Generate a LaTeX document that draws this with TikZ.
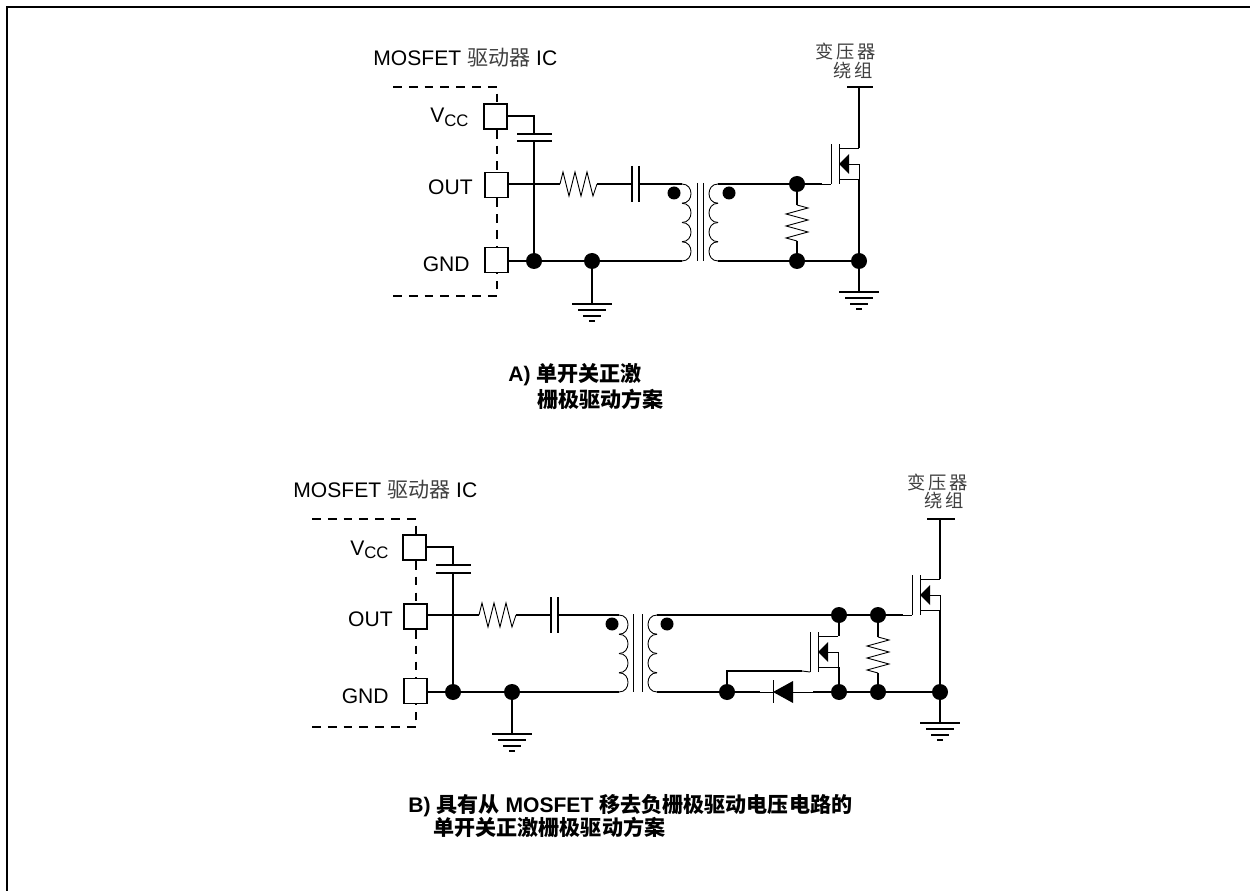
\documentclass[tikz,border=0pt]{standalone}
\usepackage{fontspec}
\setmainfont{Liberation Sans}
\newfontfamily\cjkfont{Noto Sans CJK SC}
\newfontfamily\cjkwide[LetterSpace=14]{Noto Sans CJK SC}
\usepackage{tikz}

\begin{document}
\begin{tikzpicture}[x=0.02cm, y=-0.02cm, line cap=butt,
Wire/.style={line width=1.1pt},
ThinWire/.style={line width=0.5pt},
DashBox/.style={line width=1pt, dash pattern=on 5pt off 4pt},
PinBox/.style={draw, line width=1pt, minimum width=0.46cm, minimum height=0.5cm, inner sep=0pt},
JoinDot/.style={circle, fill=black, minimum size=0.32cm, inner sep=0pt},
PhaseDot/.style={circle, fill=black, minimum size=0.26cm, inner sep=0pt},
Label/.style={inner sep=0pt, font=\fontsize{12}{12}\selectfont},
Winding/.style={inner sep=0pt, anchor=base west, text=black!75, font=\cjkwide\fontsize{10.4}{10.4}\selectfont},
Caption/.style={inner sep=0pt, anchor=base west, font=\bfseries\fontsize{12}{12}\selectfont},
Ground/.pic={
  \draw[Wire] (-20,0) -- (20,0);
  \draw[Wire] (-14,6) -- (14,6);
  \draw[Wire] (-9,12) -- (9,12);
  \draw[Wire] (-3,17) -- (3,17);
  \coordinate (-top) at (0,0);
},
ResH/.pic={
  \draw[ThinWire] (0,0) -- (3,-12) -- (9,12) -- (15,-12) -- (21,12) -- (27,-12) -- (33,12) -- (37,0);
  \coordinate (-in) at (0,0);
  \coordinate (-out) at (37,0);
},
ResV/.pic={
  \draw[ThinWire] (0,0) -- (11,3) -- (-11,9) -- (11,15) -- (-11,21) -- (11,27) -- (-11,33) -- (0,36);
  \coordinate (-in) at (0,0);
  \coordinate (-out) at (0,36);
},
Coil/.pic={
  \foreach \k in {0,1,2,3}
    \draw[ThinWire] (0,19.25*\k) .. controls (12,19.25*\k) and (12,19.25*\k+19.25) .. (0,19.25*\k+19.25);
  \coordinate (-top) at (0,0);
  \coordinate (-bot) at (0,77);
},
Mosfet/.pic={
  \draw[ThinWire] (0,0) -- (0,-40);
  \draw[ThinWire] (8,0) -- (8,-40);
  \draw[ThinWire] (8,-36) -- (28,-36);
  \draw[ThinWire] (8,-5) -- (28,-5);
  \draw[ThinWire] (8,-20) -- (28,-20) -- (28,-5);
  \fill (8,-20) -- (18,-30) -- (18,-10) -- cycle;
  \coordinate (-gate) at (0,0);
  \coordinate (-drain) at (28,-36);
  \coordinate (-source) at (28,-5);
}]

\useasboundingbox (0,0) rectangle (1250,891);
\draw[line width=1.1pt] (7,891) -- (7,7) -- (1250,7);

\node[Label, anchor=base west] (titleA) at (373,66) {MOSFET {\cjkfont\color{black!75} 驱动器} IC};
\node[PinBox] (vccA) at (495.5,116.5) {};
\node[PinBox] (outA) at (496.5,185) {};
\node[PinBox] (gndA) at (496.5,260) {};
\node[Label, anchor=base west] (vccLabelA) at (430,123) {V\raisebox{-0.3ex}{\fontsize{9.5}{9.5}\selectfont CC}};
\node[Label, anchor=base east] (outLabelA) at (473,195) {OUT};
\node[Label, anchor=base east] (gndLabelA) at (470,272) {GND};
\coordinate (boxTlA) at (393,87);
\coordinate (boxTrA) at (497,87);
\coordinate (boxBrA) at (497,296);
\coordinate (boxBlA) at (393,296);
\draw[DashBox] (boxTlA) -- (boxTrA) -- (vccA.north -| boxTrA);
\draw[DashBox] (vccA.south -| boxTrA) -- (outA.north -| boxTrA);
\draw[DashBox] (outA.south -| boxTrA) -- (gndA.north -| boxTrA);
\draw[DashBox] (boxBlA) -- (boxBrA) -- (gndA.south -| boxTrA);

\coordinate (capTopA) at (534,134);
\coordinate (capBotA) at (534,141);
\node[JoinDot] (gndDot1A) at (534,261) {};
\node[JoinDot] (gndDot2A) at (592,261) {};
\draw[Wire] (517,134) -- (552,134);
\draw[Wire] (517,141) -- (552,141);
\draw[Wire] (vccA.east |- 0,116) -| (capTopA);
\draw[Wire] (capBotA) -- (gndDot1A);
\draw[Wire] (gndA.east |- 0,261) -- (gndDot1A) -- (gndDot2A);
\pic (groundA) at (592,304) {Ground};
\draw[Wire] (gndDot2A) -- (groundA-top);

\pic (resA) at (560,184) {ResH};
\draw[Wire] (outA.east |- 0,184) -- (resA-in);
\coordinate (capLA) at (632,184);
\coordinate (capRA) at (639,184);
\draw[Wire] (632,166) -- (632,202);
\draw[Wire] (639,166) -- (639,202);
\draw[Wire] (resA-out) -- (capLA);

\pic (coilLA) at (682,184) {Coil};
\pic[xscale=-1] (coilRA) at (718,184) {Coil};
\draw[ThinWire] (697,183) -- (697,261);
\draw[ThinWire] (703,183) -- (703,261);
\node[PhaseDot] (phaseLA) at (674,193) {};
\node[PhaseDot] (phaseRA) at (729,193) {};
\draw[Wire] (capRA) -- (coilLA-top);
\draw[Wire] (gndDot2A) -- (coilLA-bot);

\node[JoinDot] (gateDotA) at (797,184) {};
\node[JoinDot] (rtnDotA) at (797,261) {};
\node[JoinDot] (srcDotA) at (859,261) {};
\draw[Wire] (coilRA-top) -- (gateDotA);
\draw[Wire] (coilRA-bot) -- (rtnDotA) -- (srcDotA);
\pic (resVA) at (797,205) {ResV};
\draw[Wire] (gateDotA) -- (resVA-in);
\draw[Wire] (resVA-out) -- (rtnDotA);
\pic (fetA) at (831,184) {Mosfet};
\draw[Wire] (gateDotA) -- (822,184);
\draw[ThinWire] (822,184) -- (fetA-gate);
\coordinate (supplyA) at (859,87);
\draw[Wire] (847,87) -- (873,87);
\draw[Wire] (supplyA) -- (fetA-drain);
\draw[Wire] (fetA-source) -- (srcDotA);
\pic (groundFetA) at (859,292) {Ground};
\draw[Wire] (srcDotA) -- (groundFetA-top);
\node[Winding] (xfmrTopA) at (815,59) {变压器};
\node[Winding] (xfmrBotA) at (833,77.5) {绕组};

\node[Caption] (capAOne) at (508,382) {A) {\cjkfont 单开关正激}};
\node[Caption] (capATwo) at (537,408) {\cjkfont 栅极驱动方案};

\node[Label, anchor=base west] (titleB) at (293,497) {MOSFET {\cjkfont\color{black!75} 驱动器} IC};
\node[PinBox] (vccB) at (414.5,547.5) {};
\node[PinBox] (outB) at (415.5,616.5) {};
\node[PinBox] (gndB) at (415.5,691) {};
\node[Label, anchor=base west] (vccLabelB) at (350,555) {V\raisebox{-0.3ex}{\fontsize{9.5}{9.5}\selectfont CC}};
\node[Label, anchor=base east] (outLabelB) at (393,626) {OUT};
\node[Label, anchor=base east] (gndLabelB) at (389,703) {GND};
\coordinate (boxTlB) at (312,519);
\coordinate (boxTrB) at (416,519);
\coordinate (boxBrB) at (416,727);
\coordinate (boxBlB) at (312,727);
\draw[DashBox] (boxTlB) -- (boxTrB) -- (vccB.north -| boxTrB);
\draw[DashBox] (vccB.south -| boxTrB) -- (outB.north -| boxTrB);
\draw[DashBox] (outB.south -| boxTrB) -- (gndB.north -| boxTrB);
\draw[DashBox] (boxBlB) -- (boxBrB) -- (gndB.south -| boxTrB);

\coordinate (capTopB) at (453,565);
\coordinate (capBotB) at (453,573);
\node[JoinDot] (gndDot1B) at (453,692) {};
\node[JoinDot] (gndDot2B) at (512,692) {};
\draw[Wire] (436,565) -- (471,565);
\draw[Wire] (436,573) -- (471,573);
\draw[Wire] (vccB.east |- 0,547) -| (capTopB);
\draw[Wire] (capBotB) -- (gndDot1B);
\draw[Wire] (gndB.east |- 0,692) -- (gndDot1B) -- (gndDot2B);
\pic (groundB) at (512,734) {Ground};
\draw[Wire] (gndDot2B) -- (groundB-top);

\pic (resB) at (479,615) {ResH};
\draw[Wire] (outB.east |- 0,615) -- (resB-in);
\coordinate (capLB) at (551,615);
\coordinate (capRB) at (558,615);
\draw[Wire] (551,597) -- (551,633);
\draw[Wire] (558,597) -- (558,633);
\draw[Wire] (resB-out) -- (capLB);

\pic (coilLB) at (619,615) {Coil};
\pic[xscale=-1] (coilRB) at (657,615) {Coil};
\draw[ThinWire] (633,614) -- (633,692);
\draw[ThinWire] (642,614) -- (642,692);
\node[PhaseDot] (phaseLB) at (612,624) {};
\node[PhaseDot] (phaseRB) at (667,624) {};
\draw[Wire] (capRB) -- (coilLB-top);
\draw[Wire] (gndDot2B) -- (coilLB-bot);

\node[JoinDot] (clampDotB) at (839,615) {};
\node[JoinDot] (gateDotB) at (878,615) {};
\node[JoinDot] (diodeDotB) at (727,692) {};
\node[JoinDot] (clampRtnB) at (839,692) {};
\node[JoinDot] (rtnDotB) at (878,692) {};
\node[JoinDot] (srcDotB) at (940,692) {};
\draw[Wire] (coilRB-top) -- (clampDotB) -- (gateDotB);
\draw[Wire] (coilRB-bot) -- (diodeDotB);

\coordinate (diodeCathB) at (773,692);
\coordinate (diodeAnodeB) at (793,692);
\draw[ThinWire] (773,680) -- (773,703);
\fill (diodeCathB) -- (793,681) -- (793,703) -- cycle;
\draw[Wire] (diodeDotB) -- (760,692);
\draw[ThinWire] (760,692) -- (diodeCathB);
\draw[ThinWire] (diodeAnodeB) -- (813,692);
\draw[Wire] (813,692) -- (clampRtnB);
\draw[Wire] (clampRtnB) -- (rtnDotB) -- (srcDotB);

\pic (clampB) at (810,672) {Mosfet};
\draw[Wire] (diodeDotB) |- (802,671);
\draw[ThinWire] (802,671) -- (clampB-gate);
\draw[Wire] (clampDotB) -- (clampB-drain -| clampDotB);
\draw[Wire] (clampB-source -| clampDotB) -- (clampRtnB);

\pic (resVB) at (878,637) {ResV};
\draw[Wire] (gateDotB) -- (resVB-in);
\draw[Wire] (resVB-out) -- (rtnDotB);
\pic (fetB) at (912,615) {Mosfet};
\draw[Wire] (gateDotB) -- (903,615);
\draw[ThinWire] (903,615) -- (fetB-gate);
\coordinate (supplyB) at (940,519);
\draw[Wire] (927,519) -- (955,519);
\draw[Wire] (supplyB) -- (fetB-drain);
\draw[Wire] (fetB-source) -- (srcDotB);
\pic (groundFetB) at (940,723) {Ground};
\draw[Wire] (srcDotB) -- (groundFetB-top);
\node[Winding] (xfmrTopB) at (907,489) {变压器};
\node[Winding] (xfmrBotB) at (924,507.5) {绕组};

\node[Caption] (capBOne) at (408,812) {B) {\cjkfont 具有从} MOSFET {\cjkfont 移去负栅极驱动电压电路的}};
\node[Caption] (capBTwo) at (433,835) {\cjkfont 单开关正激栅极驱动方案};

\end{tikzpicture}
\end{document}
